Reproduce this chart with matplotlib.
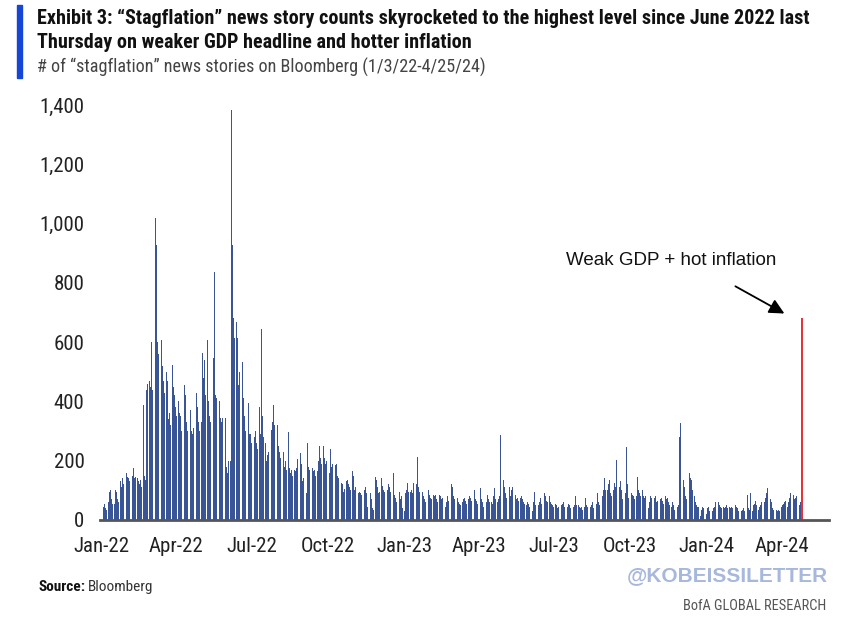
import numpy as np
import matplotlib
matplotlib.use("Agg")
import matplotlib.pyplot as plt
import matplotlib.dates as mdates

plt.rcParams['font.family'] = ['Roboto Condensed', 'Open Sans Condensed', 'DejaVu Sans Condensed',
                               'Liberation Sans Narrow', 'Roboto', 'DejaVu Sans']
plt.rcParams['font.stretch'] = 'condensed'

# daily "stagflation" story counts, one row per week (Mon..Fri), starting 2022-01-03
weeks = [
    [45, 50, 55, 40, 35], [60, 95, 100, 70, 55], [55, 100, 95, 70, 60], [130, 110, 140, 155, 120],
    [160, 145, 150, 140, 130], [150, 236, 175, 140, 145], [140, 130, 120, 135, 110], [388, 150, 135, 440, 460],
    [470, 450, 600, 480, 440], [1019, 928, 668, 600, 560], [607, 580, 520, 470, 430], [500, 470, 340, 360, 320],
    [523, 450, 420, 380, 350], [400, 360, 350, 280, 300], [455, 420, 360, 330, 300], [370, 340, 300, 290, 310],
    [506, 430, 380, 330, 300], [330, 563, 480, 540, 420], [607, 400, 350, 290, 330], [547, 837, 650, 420, 410],
    [400, 290, 345, 330, 345], [150, 345, 180, 160, 200], [200, 1383, 928, 680, 614], [668, 614, 455, 500, 430],
    [533, 410, 280, 350, 300], [394, 350, 290, 290, 260], [330, 280, 300, 260, 240], [380, 290, 644, 350, 280],
    [260, 200, 220, 230, 210], [305, 330, 320, 388, 320], [320, 270, 250, 230, 210], [200, 230, 180, 200, 170],
    [297, 175, 160, 170, 150], [170, 165, 175, 180, 205], [225, 190, 160, 130, 140], [90, 130, 260, 180, 170],
    [180, 175, 165, 170, 150], [165, 200, 250, 210, 190], [250, 210, 190, 200, 140], [160, 240, 200, 180, 190],
    [185, 170, 190, 150, 140], [110, 125, 120, 95, 105], [130, 135, 120, 110, 100], [165, 150, 100, 110, 95],
    [90, 95, 80, 90, 85], [100, 145, 110, 90, 45], [80, 90, 70, 40, 35], [145, 135, 110, 90, 95],
    [140, 115, 100, 95, 90], [100, 120, 135, 110, 95], [160, 90, 85, 75, 60], [60, 95, 70, 80, 40],
    [30, 90, 100, 125, 95], [95, 100, 90, 110, 125], [120, 214, 110, 100, 95], [95, 55, 80, 70, 60],
    [90, 100, 85, 75, 70], [85, 80, 85, 70, 60], [85, 80, 70, 75, 55], [45, 60, 70, 80, 65],
    [120, 170, 110, 80, 70], [80, 75, 60, 55, 50], [60, 70, 75, 65, 55], [70, 80, 75, 65, 60],
    [100, 70, 65, 60, 55], [107, 80, 70, 60, 45], [35, 60, 85, 70, 60], [60, 55, 80, 107, 70],
    [60, 70, 80, 287, 215], [135, 110, 90, 80, 75], [112, 90, 80, 100, 112], [90, 85, 70, 75, 65],
    [75, 80, 70, 60, 55], [50, 60, 55, 45, 40], [30, 60, 95, 70, 50], [50, 65, 60, 75, 55],
    [70, 90, 80, 65, 60], [80, 60, 55, 50, 45], [55, 50, 40, 45, 40], [50, 55, 60, 50, 45],
    [45, 50, 55, 50, 40], [40, 45, 50, 80, 50], [50, 45, 40, 45, 35], [45, 75, 50, 45, 40],
    [45, 50, 60, 45, 40], [55, 70, 90, 60, 50], [60, 80, 100, 140, 100], [100, 120, 135, 90, 80],
    [100, 125, 110, 150, 202], [112, 130, 100, 80, 70], [90, 110, 247, 120, 75], [75, 90, 85, 80, 70],
    [80, 145, 100, 90, 80], [100, 80, 75, 80, 40], [40, 60, 70, 80, 75], [75, 80, 70, 60, 65],
    [60, 70, 75, 65, 55], [80, 70, 75, 60, 50], [45, 60, 50, 30, 35], [45, 50, 60, 281, 326],
    [135, 110, 85, 80, 70], [95, 157, 140, 135, 100], [80, 60, 50, 45, 45], [15, 35, 45, 40, 30],
    [20, 40, 35, 45, 30], [30, 35, 40, 45, 60], [70, 60, 50, 45, 40], [45, 40, 45, 50, 40],
    [45, 40, 45, 40, 35], [50, 45, 40, 35, 30], [30, 35, 30, 40, 30], [40, 85, 40, 35, 90],
    [30, 50, 55, 65, 50], [35, 45, 50, 55, 60], [60, 75, 80, 90, 107], [70, 60, 45, 40, 35],
    [30, 35, 30, 35, 30], [45, 50, 55, 60, 65], [45, 60, 75, 90, 107], [85, 70, 65, 75, 80],
    [50, 60, 55, 680],
]

dates = []
counts = []
start = np.datetime64('2022-01-03')
for k, wk in enumerate(weeks):
    for d, v in enumerate(wk):
        dates.append(start + np.timedelta64(7 * k + d, 'D'))
        counts.append(v)
dates = np.array(dates)
counts = np.array(counts)

fig = plt.figure(figsize=(8.46, 6.24), dpi=100)
ax = fig.add_axes([0.118, 0.1667, 0.862, 0.665])

# all days in blue, the latest day highlighted in red
ax.bar(dates[:-1], counts[:-1], width=1.1, color='#3a5595', linewidth=0)
ax.bar(dates[-1:], counts[-1:], width=2.4, color='#e8333b', linewidth=0)

ax.set_ylim(0, 1400)
ax.set_xlim(np.datetime64('2021-12-30'), np.datetime64('2024-05-28'))
ax.set_yticks(range(0, 1401, 200))
ax.set_yticklabels([f'{v:,}' for v in range(0, 1401, 200)])
ax.xaxis.set_major_locator(mdates.MonthLocator(bymonth=[1, 4, 7, 10]))
ax.xaxis.set_major_formatter(mdates.DateFormatter('%b-%y'))
ax.tick_params(axis='both', length=0, labelsize=15, colors='#222222')
ax.tick_params(axis='y', pad=11)
ax.tick_params(axis='x', pad=12)
for s in ['top', 'right', 'left']:
    ax.spines[s].set_visible(False)
ax.spines['bottom'].set_color('#555555')
ax.spines['bottom'].set_linewidth(2)

# annotation
ax.text(np.datetime64('2023-11-20'), 877, 'Weak GDP + hot inflation', fontsize=13.5,
        family=['Liberation Sans', 'DejaVu Sans'], stretch='normal', ha='center', va='center', color='#111111')
ax.annotate('', xy=(np.datetime64('2024-04-07'), 692), xytext=(np.datetime64('2024-02-02'), 793),
            arrowprops=dict(arrowstyle='-|>,head_length=0.9,head_width=0.45', color='black', lw=1.3))

# header
fig.patches.append(plt.Rectangle((17 / 846, 1 - 78 / 624), 5 / 846, 73 / 624,
                                 transform=fig.transFigure, color='#1546d6'))
fig.text(37 / 846, 1 - 18 / 624,
         'Exhibit 3: \u201cStagflation\u201d news story counts skyrocketed to the highest level since June 2022 last',
         fontsize=14.5, fontweight='bold', va='center', color='#111111')
fig.text(37 / 846, 1 - 43 / 624, 'Thursday on weaker GDP headline and hotter inflation',
         fontsize=14.5, fontweight='bold', va='center', color='#111111')
fig.text(37 / 846, 1 - 67 / 624, '# of \u201cstagflation\u201d news stories on Bloomberg (1/3/22-4/25/24)',
         fontsize=13.1, va='center', color='#444444')

# footer
src = fig.text(38 / 846, 1 - 587 / 624, 'Source:', fontsize=11, fontweight='bold', va='center', color='#111111')
fig.canvas.draw()
fig.text(src.get_window_extent().x1 / fig.bbox.width + 3 / 846, 1 - 587 / 624, 'Bloomberg',
         fontsize=11, va='center', color='#333333')
fig.text(828 / 846, 1 - 576 / 624, '@KOBEISSILETTER', fontsize=15, fontweight='bold', ha='right',
         va='center', color='#a7b8dc', family=['Liberation Sans', 'DejaVu Sans'], stretch='normal')
fig.text(826 / 846, 1 - 606 / 624, 'BofA GLOBAL RESEARCH', fontsize=10.4, ha='right', va='center', color='#555555')

fig.savefig('out.png', dpi=100)
